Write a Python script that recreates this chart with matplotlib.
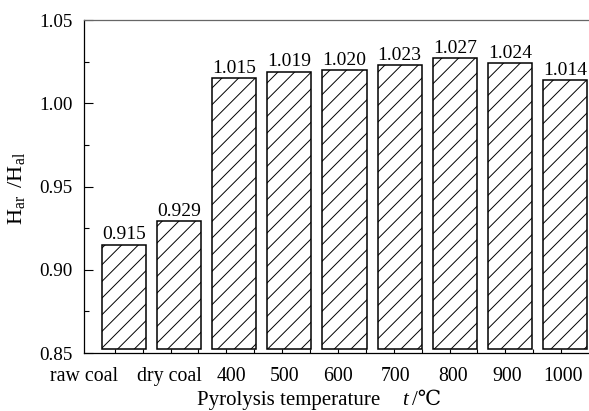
import numpy as np
import matplotlib
matplotlib.use("Agg")
import matplotlib.pyplot as plt
from matplotlib.ticker import MultipleLocator, FixedLocator

# Ratio of H values for raw coal, dry coal and chars from pyrolysis at each temperature
categories = ["raw coal", "dry coal", "400", "500", "600", "700", "800", "900", "1000"]
ratios = [0.915, 0.929, 1.015, 1.019, 1.020, 1.023, 1.027, 1.024, 1.014]
value_labels = ["0.915", "0.929", "1.015", "1.019", "1.020", "1.023", "1.027", "1.024", "1.014"]

# horizontal nudges of the category labels relative to the bar centres
label_shift = [-0.72, -0.17, -0.04, -0.08, -0.11, -0.07, -0.03, -0.05, -0.04]

serif = ["Liberation Serif", "DejaVu Serif", "DejaVu Sans", "Noto Sans CJK SC"]
plt.rcParams["font.family"] = serif
plt.rcParams["mathtext.fontset"] = "stix"
plt.rcParams["hatch.linewidth"] = 0.7

fig = plt.figure(figsize=(5.89, 4.11), dpi=100)
ax = fig.add_axes([0.1426, 0.1411, 0.8574, 0.8102])

x = np.arange(len(categories))
base = 0.8525
ax.bar(x, np.array(ratios) - base, bottom=base, width=0.8,
       facecolor="white", edgecolor="black", linewidth=1.1, hatch="//")

for xi, v, lab in zip(x, ratios, value_labels):
    ax.annotate(lab, (xi, v), xytext=(0, 1.0), textcoords="offset points",
                ha="center", va="bottom", fontsize=14)

xlo, xhi = -0.667, 8.43
ax.set_xlim(xlo, xhi)
ax.set_ylim(0.85, 1.05)

# category labels without tick marks; short inward marks along the bottom
ax.set_xticks(x + np.array(label_shift))
ax.set_xticklabels(categories, fontsize=14.3)
ax.tick_params(axis="x", which="major", length=0, pad=10)
ax.xaxis.set_minor_locator(FixedLocator(xlo + np.arange(1, 18) * (xhi - xlo) / 18))
ax.tick_params(axis="x", which="minor", direction="in", length=3.2, width=0.8)

ax.yaxis.set_minor_locator(MultipleLocator(0.025))
ax.set_yticks([0.85, 0.90, 0.95, 1.00, 1.05])
ax.set_yticklabels(["0.85", "0.90", "0.95", "1.00", "1.05"], fontsize=13.8)
ax.tick_params(axis="y", which="major", direction="in", length=6.5, width=0.8, pad=8)
ax.tick_params(axis="y", which="minor", direction="in", length=3.5, width=0.8)

for side in ["left", "bottom", "top"]:
    ax.spines[side].set_linewidth(0.9)
ax.spines["top"].set_color("#666666")
ax.spines["right"].set_visible(False)

ax.set_ylabel(r"$\mathregular{H_{ar}\;\;/H_{al}}$", fontsize=16)
ax.yaxis.set_label_coords(-0.112, 0.494)

# axis title: upright words, italic symbol, then the unit
yb = -0.156
ax.text(0.224, yb, "Pyrolysis temperature", transform=ax.transAxes,
        ha="left", va="baseline", fontsize=15)
ax.text(0.629, yb, "t", transform=ax.transAxes, ha="left", va="baseline",
        fontsize=15, style="italic")
ax.text(0.650, yb, "/\u2103", transform=ax.transAxes, ha="left", va="baseline",
        fontsize=15, family=serif)

fig.savefig("out.png", dpi=100)
